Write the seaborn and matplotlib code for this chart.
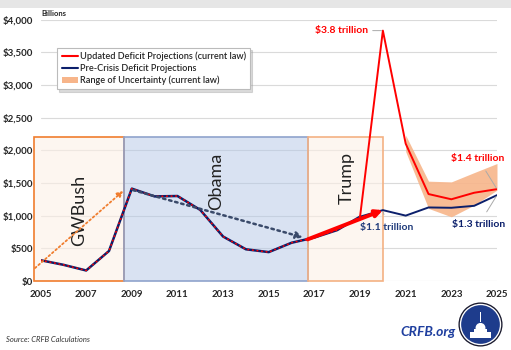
import numpy as np
import pandas as pd
import matplotlib
matplotlib.use("Agg")
import matplotlib.pyplot as plt
import seaborn as sns
from matplotlib.patches import Rectangle, Patch, Circle
from matplotlib.lines import Line2D

# ---------------- data ----------------
hist_years = list(range(2005, 2020))
hist_deficit = [318, 248, 161, 459, 1413, 1294, 1300, 1087, 680, 485, 442, 585, 665, 779, 984]

proj_years = [2019, 2020, 2021, 2022, 2023, 2024, 2025]
updated_proj = [984, 3830, 2100, 1330, 1250, 1350, 1405]
precrisis_proj = [984, 1084, 1000, 1125, 1120, 1150, 1313]

band_years = [2021, 2022, 2023, 2024, 2025]
band_low = [1980, 1110, 982, 1160, 1390]
band_high = [2230, 1527, 1516, 1658, 1797]

eras = ["GWBush", "Obama", "Trump"]
era_start = [2004.73, 2008.68, 2016.72]
era_end = [2008.68, 2016.72, 2020.0]
era_top = 2203

xticks = list(range(2005, 2026, 2))
yticks = list(range(0, 4001, 500))
ytick_labels = ["$0" if v == 0 else f"${v:,}" for v in yticks]

# ---------------- style ----------------
sns.set_style("white")
plt.rcParams['font.family'] = ['Lato', 'DejaVu Sans']

RED = "#FF0000"
NAVY = "#0B1F6B"
BAND = "#F7B58A"

fig = plt.figure(figsize=(5.11, 3.5), dpi=100)
fig.patch.set_facecolor("white")
# top grey strip
fig.patches.append(Rectangle((0, 1 - 8 / 350), 1, 8 / 350, transform=fig.transFigure,
                             facecolor="#E6E6E6", edgecolor="none", zorder=0))

ax = fig.add_axes([40.5 / 511, (350 - 281) / 350, 456.5 / 511, 261.5 / 350])

# era boxes
era_face = ["#FDF0E6", "#B4C7E7", "#FDF0E6"]
era_alpha = [0.6, 0.5, 0.6]
era_edge = ["#F07D2E", "#8FA3CC", "#F4B183"]
for s, e, fc, a, ec in zip(era_start, era_end, era_face, era_alpha, era_edge):
    ax.add_patch(Rectangle((s, 0), e - s, era_top, facecolor=fc, alpha=a,
                           edgecolor="none", zorder=1, clip_on=False))
    ax.add_patch(Rectangle((s, 0), e - s, era_top, facecolor="none",
                           edgecolor=ec, linewidth=1.2, zorder=2, clip_on=False))

# uncertainty band
ax.fill_between(band_years, band_low, band_high, color=BAND, alpha=0.9, linewidth=0, zorder=3)

# lines
hist_df = pd.DataFrame({"year": hist_years, "deficit": hist_deficit})
proj_df = pd.DataFrame({"year": proj_years, "updated": updated_proj, "pre": precrisis_proj})

sns.lineplot(data=hist_df, x="year", y="deficit", color=NAVY, linewidth=1.8, ax=ax, zorder=4)
sns.lineplot(data=hist_df, x="year", y="deficit", color=RED, linewidth=1.1, ax=ax, zorder=5)
ax.lines[-1].set_dashes([1.2, 1.8])
sns.lineplot(data=proj_df, x="year", y="pre", color=NAVY, linewidth=1.4, ax=ax, zorder=4)
sns.lineplot(data=proj_df, x="year", y="updated", color=RED, linewidth=1.4, ax=ax, zorder=5)

ax.set_xlim(2005, 2025)
ax.set_ylim(0, 4000)
ax.set_xlabel("")
ax.set_ylabel("")
for s in ax.spines.values():
    s.set_visible(False)
ax.set_yticks(yticks)
ax.set_yticklabels(ytick_labels)
ax.set_xticks(xticks)
ax.set_xticklabels([str(v) for v in xticks])
ax.tick_params(axis="both", length=0, labelsize=7)
ax.tick_params(axis="x", pad=6.5)
ax.tick_params(axis="y", pad=5.5)
for lab in ax.get_xticklabels() + ax.get_yticklabels():
    lab.set_fontweight("bold")
ax.yaxis.grid(True, color="#DADADA", linewidth=0.8, zorder=0)
ax.xaxis.grid(False)
ax.set_axisbelow(True)

# era labels
era_label_pos = [(2006.7, 1084), (2012.7, 1517), (2018.4, 1580)]
for name, (x, y) in zip(eras, era_label_pos):
    ax.text(x, y, name, rotation=90, ha="center", va="center", fontsize=13,
            color="#222222", zorder=6)

# trend arrows
ax.annotate("", xy=(2008.63, 1379), xytext=(2004.76, 198),
            arrowprops=dict(arrowstyle="-|>", color="#F07D2E", linestyle=(0, (1, 1.5)),
                            linewidth=1.3, mutation_scale=9, shrinkA=0, shrinkB=0),
            annotation_clip=False, zorder=6)
ax.annotate("", xy=(2016.5, 667), xytext=(2009.05, 1390),
            arrowprops=dict(arrowstyle="-|>", color="#3A4A6A", linestyle=(0, (1, 1.5)),
                            linewidth=1.8, mutation_scale=10, shrinkA=0, shrinkB=0),
            zorder=6)
ax.annotate("", xy=(2020.0, 1084), xytext=(2016.7, 636),
            arrowprops=dict(arrowstyle="-|>", color=RED, linewidth=2.8,
                            mutation_scale=10, shrinkA=0, shrinkB=0),
            zorder=7)

# value annotations
ann_kw = dict(fontsize=7.5, fontweight="bold", zorder=8)
ax.annotate("$3.8 trillion", xy=(2020, 3830), xytext=(2019.35, 3830), ha="right", va="center",
            color=RED, arrowprops=dict(arrowstyle="-", color="#AAAAAA", lw=0.7,
                                       shrinkA=1, shrinkB=1), **ann_kw)
ax.annotate("$1.4 trillion", xy=(2025, 1405), xytext=(2024.17, 1874), ha="center", va="center",
            color=RED, arrowprops=dict(arrowstyle="-", color="#AAAAAA", lw=0.7,
                                       shrinkA=4, shrinkB=1), annotation_clip=False, **ann_kw)
ax.annotate("$1.3 trillion", xy=(2025, 1313), xytext=(2024.21, 866), ha="center", va="center",
            color=NAVY, arrowprops=dict(arrowstyle="-", color="#AAAAAA", lw=0.7,
                                        shrinkA=4, shrinkB=1), annotation_clip=False, **ann_kw)
ax.annotate("$1.1 trillion", xy=(2020, 1084), xytext=(2020.18, 814), ha="center", va="center",
            color="#1F3A7A", arrowprops=dict(arrowstyle="-", color="#AAAAAA", lw=0.7,
                                             shrinkA=4, shrinkB=1), **ann_kw)

# legend
handles = [Line2D([0], [0], color=RED, lw=1.5),
           Line2D([0], [0], color=NAVY, lw=1.5),
           Patch(facecolor=BAND, edgecolor="none")]
labels = ["Updated Deficit Projections (current law)", "Pre-Crisis Deficit Projections",
          "Range of Uncertainty (current law)"]
leg = ax.legend(handles, labels, loc="upper left", bbox_to_anchor=(0.027, 0.91),
                fontsize=6.6, frameon=True, fancybox=False,
                shadow={"color": "#999999", "alpha": 0.35, "ox": 1.5, "oy": -1.5},
                handlelength=1.8, handletextpad=0.2, borderpad=0.45, labelspacing=0.3)
leg.get_frame().set_edgecolor("#BBBBBB")
leg.get_frame().set_linewidth(0.8)
for t in leg.get_texts():
    t.set_fontweight("semibold")
leg.set_zorder(10)

# figure texts
fig.text(41 / 511, 1 - 14 / 350, "Billions", fontsize=5.5, fontweight="bold",
         ha="left", va="center")
fig.text(6 / 511, 1 - 339 / 350, "Source: CRFB Calculations", fontsize=5.5, style="italic",
         ha="left", va="center", color="#333333")
fig.text(428 / 511, 1 - 332 / 350, "CRFB.org", fontsize=10, style="italic", fontweight="bold",
         ha="center", va="center", color="#1F3F9F")

# logo
lax = fig.add_axes([458 / 511, (350 - 347) / 350, 45 / 511, 45 / 350])
lax.set_xlim(-1, 1)
lax.set_ylim(-1, 1)
lax.set_aspect("equal")
lax.axis("off")
lax.add_patch(Circle((0, 0), 0.98, facecolor="#1A1A2E", edgecolor="none"))
lax.add_patch(Circle((0, 0), 0.92, facecolor="white", edgecolor="none"))
lax.add_patch(Circle((0, 0), 0.86, facecolor="#1E3C8C", edgecolor="none"))
lax.add_patch(Rectangle((-0.45, -0.6), 0.9, 0.25, facecolor="white", edgecolor="none"))
lax.add_patch(Rectangle((-0.3, -0.35), 0.6, 0.15, facecolor="white", edgecolor="none"))
lax.add_patch(Circle((0, -0.15), 0.22, facecolor="white", edgecolor="none"))
lax.add_patch(Rectangle((-0.03, 0.1), 0.06, 0.45, facecolor="white", edgecolor="none"))

fig.savefig("out.png", dpi=100)
